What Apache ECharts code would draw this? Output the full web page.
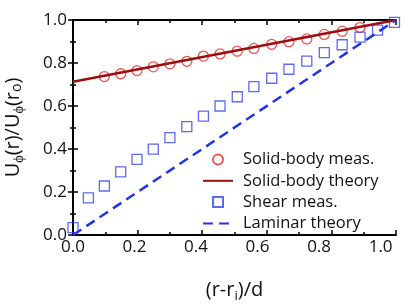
<!DOCTYPE html>
<html>
<head>
<meta charset="utf-8">
<script src="https://cdn.jsdelivr.net/npm/echarts@6/dist/echarts.min.js"></script>
<style>
html,body{margin:0;padding:0;background:#fff;}
#chart{width:415px;height:303px;}
</style>
</head>
<body>
<div id="chart"></div>
<script>
// ---- data ----
var solidMeasX = [0.102, 0.155, 0.208, 0.261, 0.315, 0.370, 0.424, 0.478, 0.534, 0.588, 0.646, 0.702, 0.760, 0.817, 0.875, 0.933];
var solidMeasY = [0.737, 0.750, 0.765, 0.782, 0.796, 0.808, 0.832, 0.842, 0.855, 0.868, 0.887, 0.899, 0.912, 0.933, 0.948, 0.965];
var shearMeasX = [0.000, 0.050, 0.102, 0.155, 0.208, 0.261, 0.315, 0.370, 0.424, 0.478, 0.534, 0.588, 0.646, 0.702, 0.760, 0.817, 0.875, 0.933, 0.990, 1.045];
var shearMeasY = [0.034, 0.173, 0.228, 0.294, 0.352, 0.399, 0.453, 0.504, 0.553, 0.600, 0.643, 0.690, 0.729, 0.771, 0.809, 0.848, 0.885, 0.920, 0.953, 0.989];
var solidTheoryX = [0, 1.05];
var solidTheoryY = [0.713, 1.0];
var laminarX = [0, 1.05];
var laminarY = [0, 1.0];
var xTickLabels = ['0.0', '0.2', '0.4', '0.6', '0.8', '1.0'];
var yTickLabels = ['0.0', '0.2', '0.4', '0.6', '0.8', '1.0'];
var seriesNames = ['Solid-body meas.', 'Solid-body theory', 'Shear meas.', 'Laminar theory'];

function zip(a, b) { return a.map(function (v, i) { return [v, b[i]]; }); }

var FONT = 'Open Sans';
var chart = echarts.init(document.getElementById('chart'));

var tickAxisCommon = {
  type: 'value', min: 0, max: 1.05, interval: 0.21,
  axisLabel: { show: false },
  axisTick: { show: true, inside: true, length: 5, lineStyle: { color: '#000', width: 1.5 } },
  minorTick: { show: true, splitNumber: 2, length: 3, lineStyle: { color: '#000', width: 1.5 } },
  splitLine: { show: false },
  minorSplitLine: { show: false }
};

var yCommon = {
  type: 'value', min: 0, max: 1, interval: 0.2,
  axisLine: { show: true, lineStyle: { color: '#000', width: 2 } },
  axisTick: { show: true, inside: true, length: 5, lineStyle: { color: '#000', width: 1.5 } },
  minorTick: { show: true, splitNumber: 2, length: 3, lineStyle: { color: '#000', width: 1.5 } },
  splitLine: { show: false }
};

var option = {
  backgroundColor: '#fff',
  animation: false,
  textStyle: { fontFamily: FONT },
  grid: { left: 73, right: 19, top: 20, bottom: 68, containLabel: false, outerBoundsMode: 'none' },
  legend: {
    orient: 'vertical',
    left: 197, top: 146,
    itemWidth: 30, itemHeight: 10, itemGap: 4.3,
    data: [
      { name: seriesNames[0] },
      { name: seriesNames[1] },
      { name: seriesNames[2], icon: 'path://M0,0L10,0L10,10L0,10Z' },
      { name: seriesNames[3] }
    ],
    textStyle: { fontFamily: FONT, fontSize: 16.5, color: '#111', lineHeight: 16, padding: [0, 0, 0, 5] }
  },
  xAxis: [
    {
      type: 'value', min: 0, max: 1.05, interval: 0.2, position: 'bottom',
      axisLine: { show: true, onZero: false, lineStyle: { color: '#000', width: 2 } },
      axisTick: { show: false },
      splitLine: { show: false },
      axisLabel: {
        show: true, margin: 4, fontSize: 17, color: '#111', fontFamily: FONT,
        showMaxLabel: false,
        formatter: function (v) { var i = Math.round(v / 0.2); return xTickLabels[i] !== undefined ? xTickLabels[i] : ''; }
      },
      name: '{a|(r-r}{s|i}{a|)/d}',
      nameLocation: 'middle', nameGap: 45,
      nameTextStyle: {
        rich: {
          a: { fontSize: 20, fontFamily: FONT, color: '#111', verticalAlign: 'top' },
          s: { fontSize: 13, fontFamily: FONT, color: '#111', verticalAlign: 'top', padding: [10, 0, 0, 0] }
        }
      }
    },
    Object.assign({ position: 'bottom', axisLine: { show: false, onZero: false } }, tickAxisCommon),
    Object.assign({ position: 'top', axisLine: { show: true, onZero: false, lineStyle: { color: '#000', width: 2 } } }, tickAxisCommon)
  ],
  yAxis: [
    Object.assign({}, yCommon, {
      position: 'left',
      axisLabel: {
        show: true, margin: 6, fontSize: 17, color: '#111', fontFamily: FONT,
        formatter: function (v) { var i = Math.round(v / 0.2); return yTickLabels[i] !== undefined ? yTickLabels[i] : ''; }
      },
      name: '{a|U}{s|\u03d5}{a|(r)/U}{s|\u03d5}{a|(r}{o|o}{a|)}',
      nameLocation: 'middle', nameGap: 47, nameRotate: 90,
      nameTextStyle: {
        rich: {
          a: { fontSize: 20, fontFamily: FONT, color: '#111', verticalAlign: 'top' },
          s: { fontSize: 14, fontFamily: FONT, color: '#111', verticalAlign: 'top', padding: [9, 0, 0, 0] },
          o: { fontSize: 14, fontFamily: FONT, color: '#111', verticalAlign: 'top', padding: [7, 0, 0, 0] }
        }
      }
    }),
    Object.assign({}, yCommon, { position: 'right', axisLabel: { show: false } })
  ],
  series: [
    {
      name: seriesNames[0], type: 'scatter', xAxisIndex: 0, yAxisIndex: 0,
      symbol: 'circle', symbolSize: 10,
      itemStyle: { color: 'rgba(255,255,255,0)', borderColor: '#f02828', borderWidth: 1.3 },
      data: zip(solidMeasX, solidMeasY), z: 2
    },
    {
      name: seriesNames[2], type: 'scatter', xAxisIndex: 0, yAxisIndex: 0,
      symbol: 'rect', symbolSize: 10,
      itemStyle: { color: 'rgba(255,255,255,0)', borderColor: '#3344f0', borderWidth: 1.3 },
      data: zip(shearMeasX, shearMeasY), z: 2
    },
    {
      name: seriesNames[1], type: 'line', xAxisIndex: 0, yAxisIndex: 0,
      showSymbol: false, symbol: 'none',
      lineStyle: { color: '#9a0e0e', width: 2.5 },
      itemStyle: { color: 'rgba(0,0,0,0)', borderWidth: 0 },
      data: zip(solidTheoryX, solidTheoryY), z: 3
    },
    {
      name: seriesNames[3], type: 'line', xAxisIndex: 0, yAxisIndex: 0,
      showSymbol: false, symbol: 'none',
      lineStyle: { color: '#2233ee', width: 2.5, type: [10, 6] },
      itemStyle: { color: 'rgba(0,0,0,0)', borderWidth: 0 },
      data: zip(laminarX, laminarY), z: 3
    }
  ]
};
chart.setOption(option);
</script>
</body>
</html>
